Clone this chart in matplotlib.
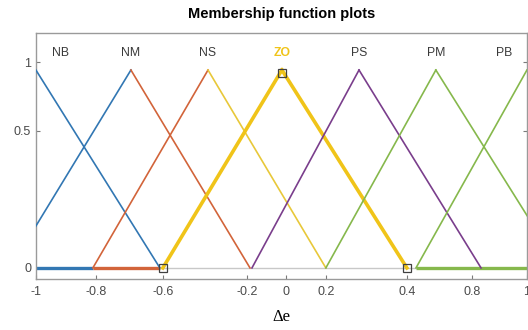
import numpy as np
import matplotlib.pyplot as plt

# membership functions for the error change (triangles: foot, peak, foot)
mf_names = ["NB", "NM", "NS", "ZO", "PS", "PM", "PB"]
mf_a = [-1.50, -1.104, -0.768, -0.483, -0.120, 0.181, 0.548]
mf_b = [-1.00, -0.613, -0.299, 0.002, 0.316, 0.629, 1.000]
mf_c = [-0.495, -0.128, 0.181, 0.511, 0.813, 1.134, 1.50]

# zero-membership stretches along the bottom
flat_start = [-1.0, -0.768, -0.495, 0.548]
flat_end = [-0.768, -0.495, 0.548, 1.0]

# axis tick labels
xtick_labels = ["-1", "-0.8", "-0.6", "-0.2", "0", "0.2", "0.4", "0.8", "1"]
ytick_labels = ["0", "0.5", "1"]

blue, orange, yellow = "#3277b3", "#d2643a", "#e8c83a"
purple, green, gray = "#7a3e8c", "#86b84c", "#c8c8c8"
thick_yellow = "#f0c419"

left_col = [None, blue, orange, thick_yellow, purple, green, green]
right_col = [blue, orange, yellow, thick_yellow, purple, green, None]
flat_col = [blue, orange, gray, green]
flat_lw = [2.4, 2.4, 1.0, 2.4]

fig = plt.figure(figsize=(5.28, 3.30), dpi=100)
ax = fig.add_axes([0.068, 0.1545, 0.93, 0.7455])

for s, e, c, lw in zip(flat_start, flat_end, flat_col, flat_lw):
    ax.plot([s, e], [0, 0], color=c, lw=lw, solid_capstyle="butt", zorder=2)

for i, name in enumerate(mf_names):
    a, b, c = mf_a[i], mf_b[i], mf_c[i]
    lw = 2.6 if name == "ZO" else 1.2
    if left_col[i]:
        ax.plot([a, b], [0, 1], color=left_col[i], lw=lw, zorder=3)
    if right_col[i]:
        ax.plot([b, c], [1, 0], color=right_col[i], lw=lw, zorder=3)
    tx = np.clip(b, -0.9, 0.906)
    if name == "ZO":
        ax.text(tx, 1.086, name, color=thick_yellow, fontsize=8.8,
                fontweight="bold", ha="center", va="center", family="Liberation Sans")
    else:
        ax.text(tx, 1.086, name, color="#3a3a3a", fontsize=8.8,
                ha="center", va="center", family="Liberation Sans")

# selected function markers
zo = mf_names.index("ZO")
ax.plot([mf_a[zo], mf_b[zo], mf_c[zo]], [0, 0.985, 0], ls="none", marker="s",
        ms=6, mfc="none", mec="#404040", mew=0.9, zorder=5)

ax.set_xlim(-1, 1)
ax.set_ylim(-0.056, 1.187)
ax.set_xticks([-1.0, -0.756, -0.483, -0.14, 0.018, 0.181, 0.511, 0.776, 1.0])
ax.set_xticklabels(xtick_labels)
ax.set_yticks([0, 0.692, 1.04])
ax.set_yticklabels(ytick_labels)
ax.tick_params(direction="in", length=3, width=0.8, color="#7a7a7a",
               labelsize=9, labelcolor="#4a4a4a", right=True)
ax.tick_params(axis="x", pad=5)
for lab in ax.get_xticklabels() + ax.get_yticklabels():
    lab.set_family("Liberation Sans")
for sp in ax.spines.values():
    sp.set_color("#9a9a9a")
    sp.set_linewidth(1.0)

ax.set_title("Membership function plots", fontsize=10.5, fontweight="bold",
             family="Liberation Sans", pad=11)
ax.set_xlabel("Δe", fontsize=12, family="Liberation Serif", labelpad=8)

fig.savefig("out.png", dpi=100)
